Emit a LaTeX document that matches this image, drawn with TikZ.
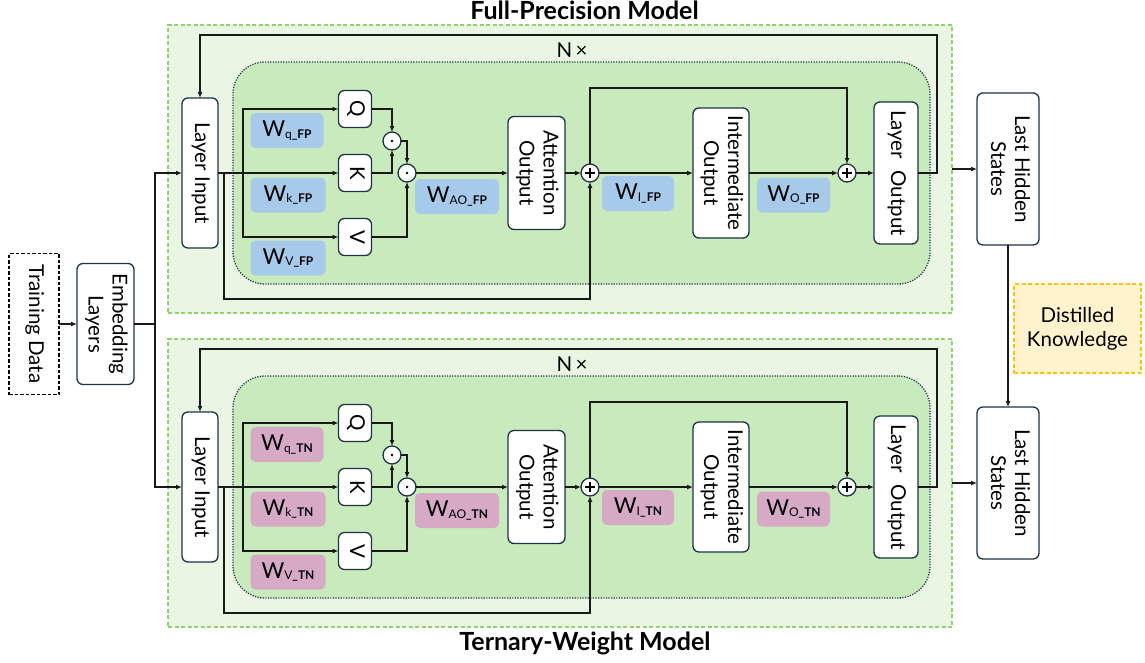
\documentclass[tikz,border=0pt]{standalone}
\usepackage{fontspec}
\setmainfont{Lato}
\usetikzlibrary{arrows.meta,calc}

\definecolor{outerfill}{HTML}{EAF5E3}
\definecolor{outerline}{HTML}{8ED46A}
\definecolor{innerfill}{HTML}{C8EABD}
\definecolor{innerline}{HTML}{22394B}
\definecolor{nodeline}{HTML}{1D3344}
\definecolor{wblue}{HTML}{A7C9EA}
\definecolor{wpink}{HTML}{D6AAC5}
\definecolor{dkfill}{HTML}{FFF2CC}
\definecolor{dkline}{HTML}{FFC000}

% weight label: large W with a small subscript tag
\newcommand{\wlab}[2]{{\fontsize{22}{22}\selectfont W}\raisebox{-1.5pt}{\fontsize{12}{12}\selectfont #1\textbf{\_#2}}}
% vertical text, read top to bottom
\newcommand{\vt}[1]{\rotatebox{-90}{\begin{tabular}{@{}c@{}}#1\end{tabular}}}

\begin{document}
\begin{tikzpicture}[x=1pt, y=-1pt,
  font=\fontsize{20.5}{24}\selectfont,
  every node/.style={inner sep=0pt, outer sep=0pt},
  outerbox/.style={draw=outerline, fill=outerfill, line width=1.1pt, dash pattern=on 4pt off 2.5pt},
  innerbox/.style={draw=innerline, fill=innerfill, line width=1.3pt, dash pattern=on 1.2pt off 1.4pt, rounded corners=32pt},
  box/.style={draw=nodeline, fill=white, line width=1.3pt, rounded corners=6pt, align=center},
  wbox/.style={rounded corners=5pt, minimum height=35pt},
  opc/.style={circle, draw=nodeline, fill=white, line width=1.3pt, minimum size=18pt},
  dotc/.style={opc, path picture={\fill[black] (path picture bounding box.center) circle (1.4pt);}},
  plusc/.style={opc, path picture={
      \draw[black, line width=1.1pt] ($(path picture bounding box.center)+(-5,0)$) -- ($(path picture bounding box.center)+(5,0)$);
      \draw[black, line width=1.1pt] ($(path picture bounding box.center)+(0,-5)$) -- ($(path picture bounding box.center)+(0,5)$);}},
  link/.style={line width=1.3pt, draw=black!90},
  arr/.style={link, -{Latex[length=6pt,width=5pt]}},
  title/.style={font=\fontsize{25}{28}\selectfont\bfseries}]

\useasboundingbox (0,0) rectangle (1145,662);

% the two model panels: full-precision (top) and ternary-weight (bottom)
\foreach \m/\dy/\wc/\tg in {fp/0/wblue/FP, tn/314/wpink/TN}{
\begin{scope}[shift={(0,\dy)}]
  \node[outerbox, minimum width=784pt, minimum height=288pt] (outer\m) at (560,169) {};
  \node[innerbox, minimum width=697pt, minimum height=222pt] (inner\m) at (581.5,173) {};
  \node (n\m) at (572,50) {N\,×};

  \node[box, minimum width=36pt, minimum height=150pt] (li\m) at (200,173) {\vt{Layer Input}};
  \node[box, minimum width=33pt, minimum height=37pt] (q\m) at (355,109) {\vt{Q}};
  \node[box, minimum width=33pt, minimum height=37pt] (k\m) at (355,173) {\vt{K}};
  \node[box, minimum width=33pt, minimum height=37pt] (v\m) at (355,237) {\vt{V}};
  \node[dotc] (da\m) at (392,141) {};
  \node[dotc] (db\m) at (407,173) {};
  \node[box, minimum width=57pt, minimum height=113pt] (ao\m) at (536.5,173) {\vt{Attention\\Output}};
  \node[plusc] (pa\m) at (590,173) {};
  \node[box, minimum width=56pt, minimum height=130pt] (io\m) at (721,173) {\vt{Intermediate\\Output}};
  \node[plusc] (pb\m) at (847,173) {};
  \node[box, minimum width=44pt, minimum height=142pt] (lo\m) at (896,173) {\vt{Layer\hspace{0.55em}Output}};

  \node[wbox, fill=\wc, minimum width=73pt] (wq\m) at (287,130.5) {\wlab{q}{\tg}};
  \node[wbox, fill=\wc, minimum width=75pt] (wk\m) at (288,195) {\wlab{k}{\tg}};
  \node[wbox, fill=\wc, minimum width=75pt] (wv\m) at (288,258) {\wlab{V}{\tg}};
  \node[wbox, fill=\wc, minimum width=84pt] (wao\m) at (457,196.5) {\wlab{AO}{\tg}};
  \node[wbox, fill=\wc, minimum width=72pt] (wi\m) at (638,193.5) {\wlab{I}{\tg}};
  \node[wbox, fill=\wc, minimum width=73pt] (wo\m) at (793.5,195) {\wlab{O}{\tg}};

  \coordinate (br\m) at (243,173);
  \coordinate (rs\m) at (224,299);
  \coordinate (sk\m) at (847,88);
  \coordinate (fb\m) at (937,35);

  % query / key / value projections
  \draw[arr] (li\m.east) -- (k\m.west);
  \draw[arr] (br\m) |- (q\m.west);
  \draw[arr] (br\m) |- (v\m.west);
  \draw[arr] (q\m.east) -| (da\m.north);
  \draw[arr] (k\m.east) -| (da\m.south);
  \draw[arr] (da\m.east) -| (db\m.north);
  \draw[arr] (v\m.east) -| (db\m.south);
  \draw[arr] (db\m.east) -- (ao\m.west);
  % residual paths
  \draw[arr] (rs\m |- li\m.east) -- (rs\m) -| (pa\m.south);
  \draw[arr] (ao\m.east) -- (pa\m.west);
  \draw[arr] (pa\m.east) -- (io\m.west);
  \draw[arr] (pa\m.north) |- (sk\m) -- (pb\m.north);
  \draw[arr] (io\m.east) -- (pb\m.west);
  \draw[arr] (pb\m.east) -- (lo\m.west);
  % repeat over N layers
  \draw[arr] (lo\m.east) -| (fb\m) -| (li\m.north);

  \node[box, minimum width=62pt, minimum height=152pt] (lhs\m) at (1008,169) {\vt{Last Hidden\\States}};
  \draw[arr] (outer\m.east |- lhs\m.west) -- (lhs\m.west);
\end{scope}
}

\node[title] (tfp) at (584.5,10) {Full-Precision Model};
\node[title] (ttn) at (585,643) {Ternary-Weight Model};

\node[draw=black, line width=1.1pt, dash pattern=on 3.5pt off 2pt, minimum width=50pt, minimum height=141pt] (data) at (34,324) {\vt{Training Data}};
\node[box, minimum width=57pt, minimum height=121pt] (emb) at (105.5,324) {\vt{Embedding\\Layers}};
\draw[arr] (data.east) -- (emb.west);
\coordinate (trunk) at (155,324);
\draw[link] (emb.east) -- (trunk);
\draw[arr] (trunk) |- (lifp.west);
\draw[arr] (trunk) |- (litn.west);

\draw[arr] (lhsfp.south) -- (lhstn.north);
\node[draw=dkline, fill=dkfill, line width=1.1pt, dash pattern=on 4pt off 2.5pt, minimum width=127pt, minimum height=89pt, align=center] (dk) at (1077.5,328.5) {Distilled\\Knowledge};
\end{tikzpicture}
\end{document}
